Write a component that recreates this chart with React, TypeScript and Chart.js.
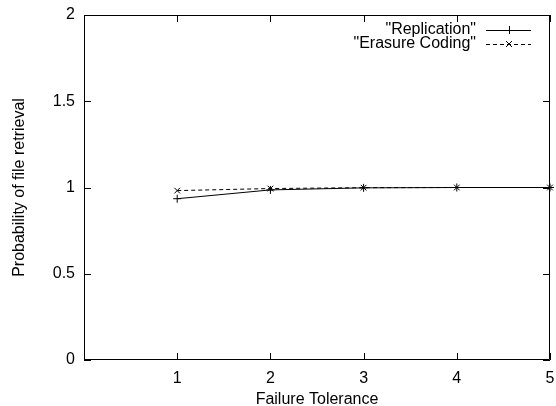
import React, { useEffect, useRef } from "react";
import { Chart, registerables } from "chart.js";

Chart.register(...registerables);

const failureTolerance = [1, 2, 3, 4, 5];
const replication = [0.935, 0.986, 0.998, 1.0, 1.0];
const erasureCoding = [0.982, 0.994, 0.999, 1.0, 1.0];
const seriesLabels = ['"Replication"', '"Erasure Coding"'];
const xTitle = "Failure Tolerance";
const yTitle = "Probability of file retrieval";

const FONT = "'Liberation Sans', Arial, Helvetica, sans-serif";
const FONT_SIZE = 16;

const framePlugin = {
  id: "gnuFrame",
  afterDatasetsDraw(chart: any) {
    const { ctx, chartArea } = chart;
    const { left, right, top, bottom } = chartArea;
    const xs = chart.scales.x;
    const ys = chart.scales.y;
    const tl = 7;
    ctx.save();
    ctx.strokeStyle = "#000";
    ctx.lineWidth = 1;
    ctx.setLineDash([]);
    ctx.beginPath();
    ctx.rect(left + 0.5, top + 0.5, right - left - 1, bottom - top - 1);
    ctx.stroke();
    ctx.beginPath();
    xs.ticks.forEach((t: any) => {
      const px = Math.round(xs.getPixelForValue(t.value)) + 0.5;
      ctx.moveTo(px, bottom);
      ctx.lineTo(px, bottom - tl);
      ctx.moveTo(px, top);
      ctx.lineTo(px, top + tl);
    });
    ys.ticks.forEach((t: any) => {
      const py = Math.round(ys.getPixelForValue(t.value)) + 0.5;
      ctx.moveTo(left, py);
      ctx.lineTo(left + tl, py);
      ctx.moveTo(right, py);
      ctx.lineTo(right - tl, py);
    });
    ctx.stroke();

    // legend (gnuplot style, top right)
    ctx.font = `${FONT_SIZE}px ${FONT}`;
    ctx.fillStyle = "#000";
    ctx.textAlign = "right";
    ctx.textBaseline = "middle";
    const textRight = right - 74;
    const lineStart = right - 64;
    const lineEnd = right - 19;
    const mid = Math.round((lineStart + lineEnd) / 2);
    const rows = [Math.round(top + 15), Math.round(top + 29)];
    chart.data.datasets.forEach((ds: any, i: number) => {
      const y = rows[i];
      ctx.fillText(seriesLabels[i], textRight, y);
      ctx.beginPath();
      ctx.setLineDash(ds.borderDash || []);
      ctx.moveTo(lineStart, y + 0.5);
      ctx.lineTo(lineEnd, y + 0.5);
      ctx.stroke();
      ctx.setLineDash([]);
      ctx.beginPath();
      const r = 4;
      if (ds.pointStyle === "cross") {
        ctx.moveTo(mid - r, y + 0.5);
        ctx.lineTo(mid + r, y + 0.5);
        ctx.moveTo(mid + 0.5, y - r);
        ctx.lineTo(mid + 0.5, y + r);
      } else {
        const d = r * 0.75;
        ctx.moveTo(mid - d, y - d);
        ctx.lineTo(mid + d, y + d);
        ctx.moveTo(mid - d, y + d);
        ctx.lineTo(mid + d, y - d);
      }
      ctx.stroke();
    });
    ctx.restore();
  },
};

export default function App() {
  const ref = useRef<HTMLCanvasElement | null>(null);
  useEffect(() => {
    if (!ref.current) return;
    Chart.defaults.font.family = FONT;
    Chart.defaults.font.size = FONT_SIZE;
    Chart.defaults.color = "#000";
    const chart = new Chart(ref.current, {
      type: "line",
      data: {
        datasets: [
          {
            label: seriesLabels[0],
            data: failureTolerance.map((x, i) => ({ x, y: replication[i] })),
            borderColor: "#000",
            backgroundColor: "#000",
            borderWidth: 1,
            pointStyle: "cross",
            pointRadius: 4,
            pointBorderWidth: 1,
            pointBorderColor: "#000",
            clip: false,
          } as any,
          {
            label: seriesLabels[1],
            data: failureTolerance.map((x, i) => ({ x, y: erasureCoding[i] })),
            borderColor: "#000",
            backgroundColor: "#000",
            borderWidth: 1,
            borderDash: [4, 3],
            pointStyle: "crossRot",
            pointRadius: 4,
            pointBorderWidth: 1,
            pointBorderColor: "#000",
            clip: false,
          } as any,
        ],
      },
      options: {
        responsive: false,
        animation: false,
        layout: { padding: { top: 15, right: 6, left: 0, bottom: 0 } },
        plugins: { legend: { display: false }, tooltip: { enabled: false } },
        scales: {
          x: {
            type: "linear",
            min: 0,
            max: 5,
            grid: { display: false, drawTicks: false },
            border: { display: false },
            ticks: {
              stepSize: 1,
              padding: 9,
              maxRotation: 0,
              callback: (v: any) => (v === 0 ? "" : String(v)),
            },
            title: {
              display: true,
              text: xTitle,
              padding: { top: 0, bottom: -3 },
            },
            afterFit: (s: any) => {
              s.height = 46;
              s.paddingLeft = 0;
              s.paddingRight = 0;
            },
          },
          y: {
            type: "linear",
            min: 0,
            max: 2,
            grid: { display: false, drawTicks: false },
            border: { display: false },
            ticks: {
              stepSize: 0.5,
              padding: 9,
              callback: (v: any) => String(v),
            },
            title: {
              display: true,
              text: yTitle,
              padding: { top: 10, bottom: 0 },
            },
            afterFit: (s: any) => {
              s.width = 84;
              s.paddingTop = 0;
              s.paddingBottom = 0;
            },
          },
        },
      } as any,
      plugins: [framePlugin],
    });
    return () => chart.destroy();
  }, []);
  return (
    <div style={{ position: "absolute", left: 0, top: 0, width: 556, height: 406 }}>
      <canvas ref={ref} width={556} height={406} style={{ width: 556, height: 406 }} />
    </div>
  );
}
